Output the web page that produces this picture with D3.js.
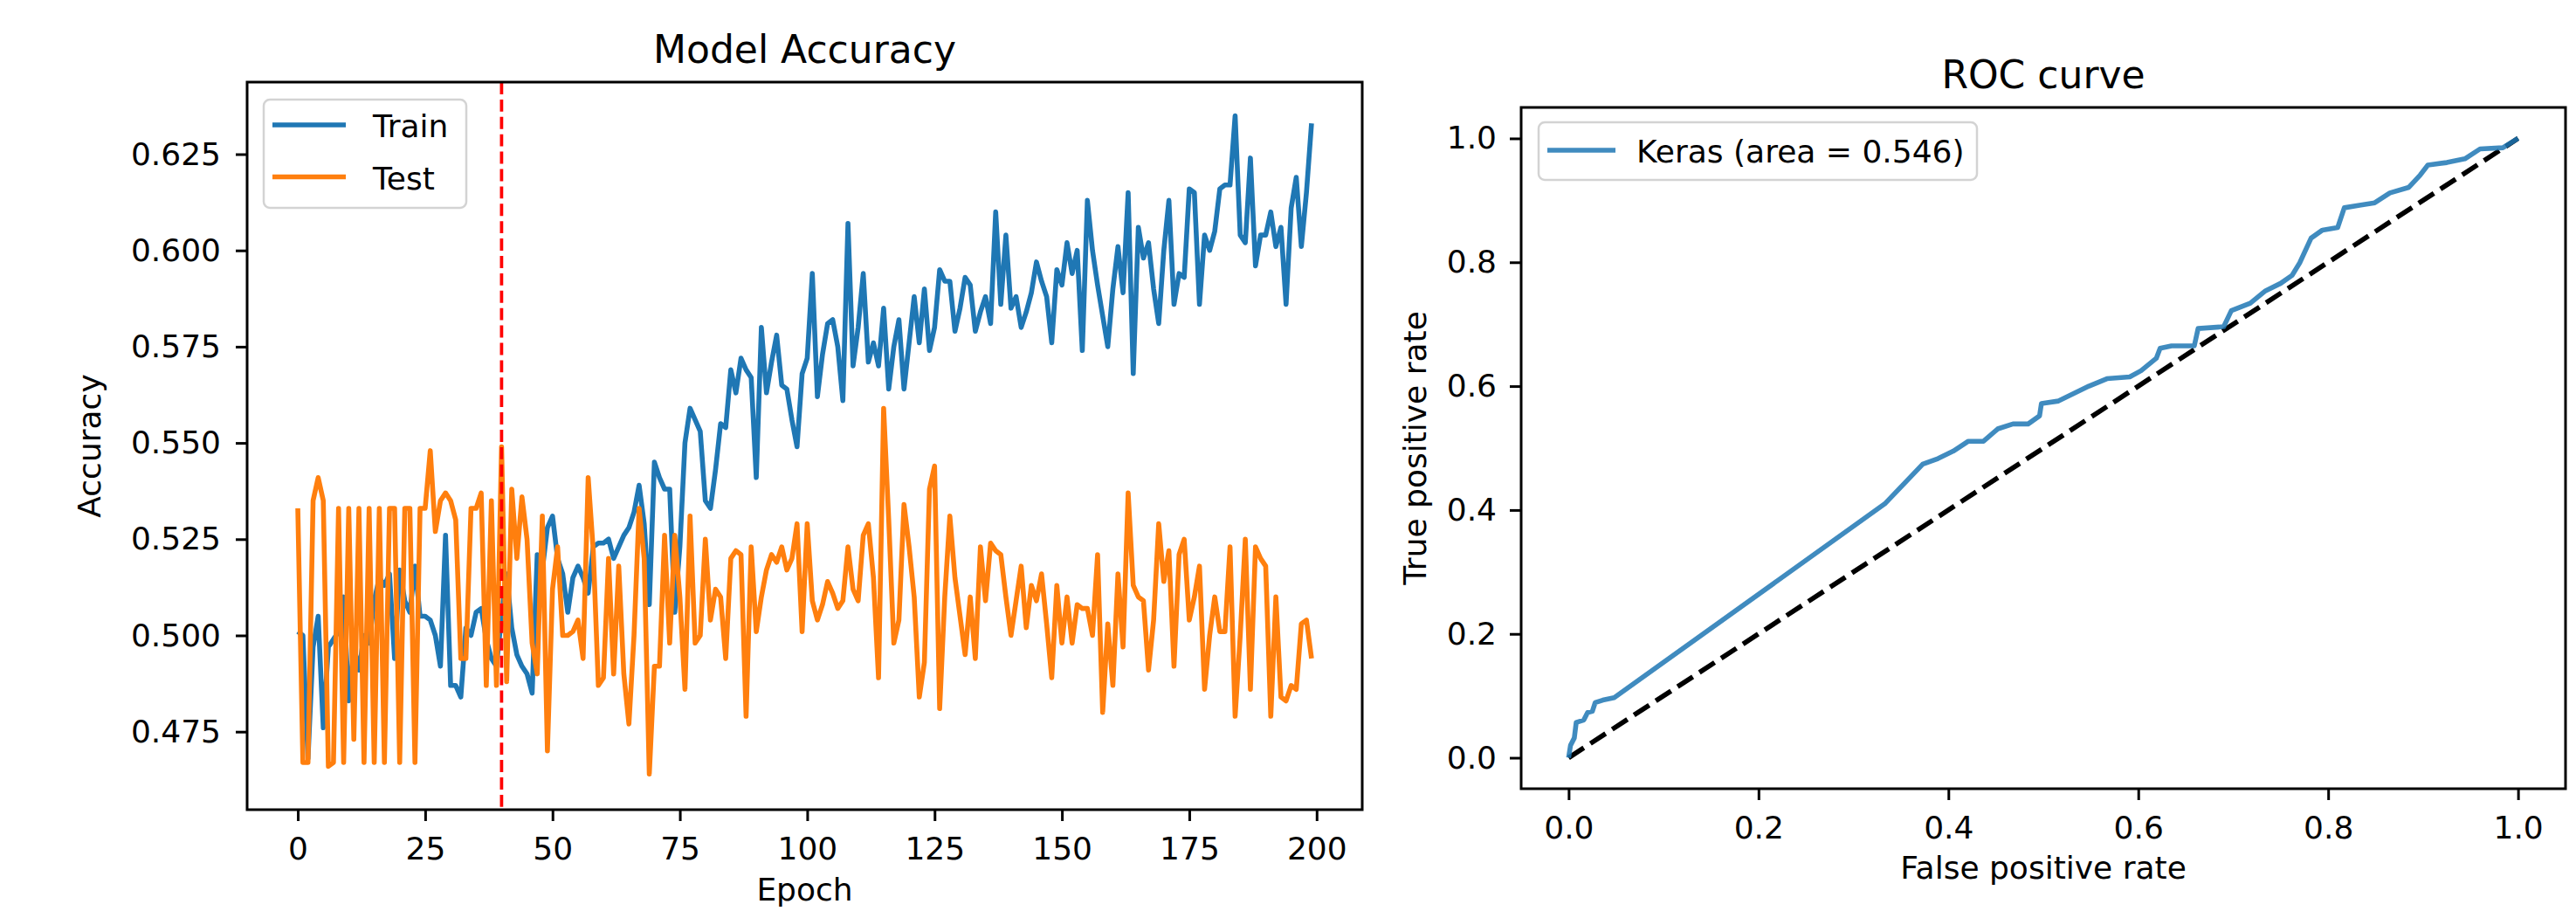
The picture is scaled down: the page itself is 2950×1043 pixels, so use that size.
<!DOCTYPE html>
<html lang="en">
<head>
<meta charset="UTF-8">
<title>Model Accuracy / ROC curve</title>
<script src="https://cdn.jsdelivr.net/npm/d3@7"></script>
<style>
  body { margin: 0; background: #fff; }
  svg { display: block; font-family: "DejaVu Sans", sans-serif; }
  .tick text { font-family: "DejaVu Sans", sans-serif; font-size: 36px; fill: #000; }
  .tick line { stroke: #000; stroke-width: 3px; }
  .frame { fill: none; stroke: #000; stroke-width: 3px; }
  .title { font-size: 44px; fill: #000; }
  .label { font-size: 36px; fill: #000; }
  .legend text { font-size: 36px; fill: #000; }
  .series { fill: none; stroke-width: 5.6px; stroke-linejoin: round; }
</style>
</head>
<body>
<div id="chart"></div>
<script>
// accuracy per epoch (0..199)
const trainAcc = [
  0.501, 0.500, 0.468, 0.497, 0.505, 0.476, 0.497, 0.499, 0.501, 0.510,
  0.483, 0.497, 0.491, 0.500, 0.498, 0.509, 0.515, 0.513, 0.516, 0.494,
  0.517, 0.509, 0.506, 0.518, 0.505, 0.505, 0.504, 0.500, 0.492, 0.526,
  0.487, 0.487, 0.484, 0.502, 0.500, 0.506, 0.507, 0.499, 0.494, 0.492,
  0.505, 0.516, 0.502, 0.495, 0.492, 0.490, 0.485, 0.521, 0.517, 0.528,
  0.531, 0.520, 0.516, 0.506, 0.515, 0.518, 0.515, 0.511, 0.523, 0.524,
  0.524, 0.525, 0.520, 0.523, 0.526, 0.528, 0.532, 0.539, 0.529, 0.508,
  0.545, 0.541, 0.538, 0.538, 0.506, 0.523, 0.550, 0.559, 0.556, 0.553,
  0.535, 0.533, 0.543, 0.555, 0.554, 0.569, 0.563, 0.572, 0.569, 0.567,
  0.541, 0.580, 0.563, 0.571, 0.578, 0.565, 0.564, 0.556, 0.549, 0.568,
  0.572, 0.594, 0.562, 0.573, 0.581, 0.582, 0.575, 0.561, 0.607, 0.570,
  0.580, 0.594, 0.571, 0.576, 0.570, 0.585, 0.564, 0.575, 0.582, 0.564,
  0.576, 0.588, 0.576, 0.590, 0.574, 0.580, 0.595, 0.592, 0.592, 0.579,
  0.585, 0.593, 0.591, 0.579, 0.584, 0.588, 0.581, 0.610, 0.586, 0.604,
  0.585, 0.588, 0.580, 0.584, 0.589, 0.597, 0.592, 0.588, 0.576, 0.595,
  0.591, 0.602, 0.594, 0.600, 0.574, 0.613, 0.600, 0.591, 0.583, 0.575,
  0.590, 0.601, 0.589, 0.615, 0.568, 0.606, 0.598, 0.602, 0.590, 0.581,
  0.600, 0.613, 0.586, 0.594, 0.593, 0.616, 0.615, 0.586, 0.604, 0.600,
  0.605, 0.616, 0.617, 0.617, 0.635, 0.604, 0.602, 0.624, 0.596, 0.604,
  0.604, 0.610, 0.601, 0.606, 0.586, 0.611, 0.619, 0.601, 0.615, 0.633
];
const testAcc = [
  0.533, 0.467, 0.467, 0.535, 0.541, 0.535, 0.466, 0.467, 0.533, 0.467,
  0.533, 0.473, 0.533, 0.467, 0.533, 0.467, 0.533, 0.467, 0.533, 0.533,
  0.467, 0.533, 0.533, 0.467, 0.533, 0.533, 0.548, 0.527, 0.535, 0.537,
  0.535, 0.530, 0.494, 0.494, 0.533, 0.533, 0.537, 0.487, 0.535, 0.487,
  0.549, 0.488, 0.538, 0.520, 0.536, 0.525, 0.498, 0.490, 0.531, 0.470,
  0.512, 0.523, 0.500, 0.500, 0.501, 0.504, 0.494, 0.541, 0.522, 0.487,
  0.489, 0.520, 0.490, 0.518, 0.490, 0.477, 0.500, 0.533, 0.520, 0.464,
  0.492, 0.492, 0.526, 0.498, 0.526, 0.510, 0.486, 0.531, 0.498, 0.500,
  0.525, 0.504, 0.512, 0.510, 0.494, 0.520, 0.522, 0.521, 0.479, 0.523,
  0.501, 0.510, 0.517, 0.521, 0.519, 0.523, 0.517, 0.520, 0.529, 0.501,
  0.529, 0.509, 0.504, 0.508, 0.514, 0.511, 0.507, 0.509, 0.523, 0.512,
  0.509, 0.526, 0.529, 0.515, 0.489, 0.559, 0.530, 0.498, 0.504, 0.534,
  0.523, 0.510, 0.484, 0.493, 0.538, 0.544, 0.481, 0.510, 0.531, 0.515,
  0.505, 0.495, 0.510, 0.494, 0.523, 0.509, 0.524, 0.522, 0.521, 0.510,
  0.500, 0.509, 0.518, 0.502, 0.513, 0.509, 0.516, 0.503, 0.489, 0.513,
  0.498, 0.510, 0.498, 0.508, 0.507, 0.507, 0.500, 0.521, 0.480, 0.503,
  0.487, 0.516, 0.497, 0.537, 0.513, 0.510, 0.509, 0.491, 0.504, 0.529,
  0.514, 0.522, 0.492, 0.521, 0.525, 0.504, 0.510, 0.518, 0.486, 0.500,
  0.510, 0.501, 0.501, 0.523, 0.479, 0.500, 0.525, 0.486, 0.523, 0.520,
  0.518, 0.479, 0.510, 0.484, 0.483, 0.487, 0.486, 0.503, 0.504, 0.494
];
const splitEpoch = 40;
const seriesNames = ["Train", "Test"];
const epochTicks = [0, 25, 50, 75, 100, 125, 150, 175, 200];
const accTicks = [0.475, 0.500, 0.525, 0.550, 0.575, 0.600, 0.625];

// ROC curve points
const rocFpr = [0, 0.002, 0.006, 0.008, 0.016, 0.020, 0.025, 0.028, 0.036, 0.048,
  0.333, 0.373, 0.389, 0.405, 0.421, 0.437, 0.452, 0.468, 0.484, 0.496,
  0.498, 0.516, 0.532, 0.548, 0.567, 0.591, 0.603, 0.619, 0.623, 0.635,
  0.659, 0.663, 0.690, 0.698, 0.718, 0.734, 0.750, 0.762, 0.770, 0.782,
  0.794, 0.810, 0.817, 0.833, 0.849, 0.865, 0.885, 0.897, 0.905, 0.925,
  0.944, 0.960, 0.984, 1.0];
const rocTpr = [0, 0.020, 0.032, 0.057, 0.061, 0.073, 0.075, 0.089, 0.093, 0.097,
  0.410, 0.474, 0.483, 0.495, 0.511, 0.511, 0.531, 0.539, 0.539, 0.552,
  0.572, 0.576, 0.588, 0.600, 0.612, 0.615, 0.625, 0.645, 0.661, 0.665,
  0.665, 0.693, 0.696, 0.722, 0.734, 0.754, 0.766, 0.779, 0.799, 0.839,
  0.852, 0.856, 0.888, 0.892, 0.896, 0.912, 0.921, 0.941, 0.957, 0.961,
  0.967, 0.983, 0.985, 1.0];
const rocTicks = [0, 0.2, 0.4, 0.6, 0.8, 1.0];
const rocLabel = "Keras (area = 0.546)";

const colors = { train: "#1f77b4", test: "#ff7f0e" };

const svg = d3.select("#chart").append("svg")
  .attr("width", 2950)
  .attr("height", 1043);

// ---------- left: model accuracy ----------
const L = { left: 283, right: 1560, top: 94, bottom: 927 };
const x = d3.scaleLinear().domain([-9.95, 208.95]).range([L.left, L.right]);
const y = d3.scaleLinear().domain([0.45474, 0.64372]).range([L.bottom, L.top]);

svg.append("g")
  .attr("transform", "translate(0," + L.bottom + ")")
  .call(d3.axisBottom(x).tickValues(epochTicks).tickFormat(d3.format("d"))
    .tickSize(13).tickPadding(18).tickSizeOuter(0))
  .call(g => g.select(".domain").remove());

svg.append("g")
  .attr("transform", "translate(" + L.left + ",0)")
  .call(d3.axisLeft(y).tickValues(accTicks).tickFormat(d3.format(".3f"))
    .tickSize(13).tickPadding(17).tickSizeOuter(0))
  .call(g => g.select(".domain").remove());

const accLine = d3.line()
  .x((d, i) => x(i))
  .y(d => y(d));

svg.append("path").datum(trainAcc).attr("class", "series")
  .attr("stroke", colors.train).attr("d", accLine);
svg.append("path").datum(testAcc).attr("class", "series")
  .attr("stroke", colors.test).attr("d", accLine);

// vertical marker
svg.append("line")
  .attr("x1", x(splitEpoch)).attr("x2", x(splitEpoch))
  .attr("y1", L.top).attr("y2", L.bottom)
  .attr("stroke", "red").attr("stroke-width", 3.75)
  .attr("stroke-dasharray", "13.9,6");

svg.append("rect").attr("class", "frame")
  .attr("x", L.left).attr("y", L.top)
  .attr("width", L.right - L.left).attr("height", L.bottom - L.top);

svg.append("text").attr("class", "title")
  .attr("x", (L.left + L.right) / 2).attr("y", 72)
  .attr("text-anchor", "middle").text("Model Accuracy");
svg.append("text").attr("class", "label")
  .attr("x", (L.left + L.right) / 2).attr("y", 1031)
  .attr("text-anchor", "middle").text("Epoch");
svg.append("text").attr("class", "label")
  .attr("transform", "translate(115," + (L.top + L.bottom) / 2 + ") rotate(-90)")
  .attr("text-anchor", "middle").text("Accuracy");

// legend
const lg = svg.append("g").attr("class", "legend");
lg.append("rect")
  .attr("x", 302).attr("y", 114).attr("width", 232).attr("height", 124)
  .attr("rx", 7).attr("fill", "#fff").attr("fill-opacity", 0.8)
  .attr("stroke", "#d3d3d3").attr("stroke-width", 2.5);
[colors.train, colors.test].forEach((c, i) => {
  const yy = 143 + i * 59.5;
  lg.append("line").attr("x1", 312).attr("x2", 396)
    .attr("y1", yy).attr("y2", yy)
    .attr("stroke", c).attr("stroke-width", 5.6);
  lg.append("text").attr("x", 427).attr("y", yy + 14).text(seriesNames[i]);
});

// ---------- right: ROC curve ----------
const R = { left: 1742, right: 2938, top: 123, bottom: 903 };
const rx = d3.scaleLinear().domain([-0.05, 1.05]).range([R.left, R.right]);
const ry = d3.scaleLinear().domain([-0.05, 1.05]).range([R.bottom, R.top]);

svg.append("g")
  .attr("transform", "translate(0," + R.bottom + ")")
  .call(d3.axisBottom(rx).tickValues(rocTicks).tickFormat(d3.format(".1f"))
    .tickSize(13).tickPadding(18).tickSizeOuter(0))
  .call(g => g.select(".domain").remove());

svg.append("g")
  .attr("transform", "translate(" + R.left + ",0)")
  .call(d3.axisLeft(ry).tickValues(rocTicks).tickFormat(d3.format(".1f"))
    .tickSize(13).tickPadding(15).tickSizeOuter(0))
  .call(g => g.select(".domain").remove());

svg.append("path").datum([0, 1])
  .attr("fill", "none").attr("stroke", "#000").attr("stroke-width", 5.6)
  .attr("stroke-dasharray", "20.8,9")
  .attr("d", d3.line().x(d => rx(d)).y(d => ry(d)));

const rocLine = d3.line()
  .x((d, i) => rx(rocFpr[i]))
  .y(d => ry(d));
svg.append("path").datum(rocTpr).attr("class", "series")
  .attr("stroke", colors.train).attr("stroke-opacity", 0.85)
  .attr("d", rocLine);

svg.append("rect").attr("class", "frame")
  .attr("x", R.left).attr("y", R.top)
  .attr("width", R.right - R.left).attr("height", R.bottom - R.top);

svg.append("text").attr("class", "title")
  .attr("x", (R.left + R.right) / 2).attr("y", 101)
  .attr("text-anchor", "middle").text("ROC curve");
svg.append("text").attr("class", "label")
  .attr("x", (R.left + R.right) / 2).attr("y", 1006)
  .attr("text-anchor", "middle").text("False positive rate");
svg.append("text").attr("class", "label")
  .attr("transform", "translate(1633," + (R.top + R.bottom) / 2 + ") rotate(-90)")
  .attr("text-anchor", "middle").text("True positive rate");

const rl = svg.append("g").attr("class", "legend");
rl.append("rect")
  .attr("x", 1762).attr("y", 140).attr("width", 502).attr("height", 66)
  .attr("rx", 7).attr("fill", "#fff").attr("fill-opacity", 0.8)
  .attr("stroke", "#d3d3d3").attr("stroke-width", 2.5);
rl.append("line").attr("x1", 1772).attr("x2", 1850)
  .attr("y1", 172).attr("y2", 172)
  .attr("stroke", colors.train).attr("stroke-opacity", 0.85).attr("stroke-width", 5.6);
rl.append("text").attr("x", 1874).attr("y", 186).text(rocLabel);
</script>
</body>
</html>
